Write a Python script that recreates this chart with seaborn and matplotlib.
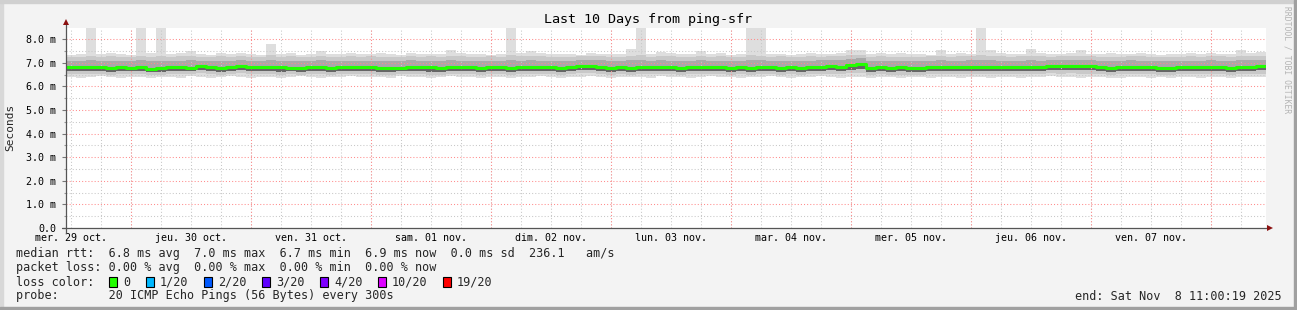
import numpy as np
import pandas as pd
import matplotlib
matplotlib.use("Agg")
import matplotlib.pyplot as plt
import seaborn as sns
from matplotlib.patches import Rectangle

# ---------------- data ----------------
title = "Last 10 Days from ping-sfr"
start_time = "2025-10-29 11:00"
step_hours = 2
day_labels = ["mer. 29 oct.", "jeu. 30 oct.", "ven. 31 oct.", "sam. 01 nov.", "dim. 02 nov.",
              "lun. 03 nov.", "mar. 04 nov.", "mer. 05 nov.", "jeu. 06 nov.", "ven. 07 nov."]
y_ticks = [0, 1, 2, 3, 4, 5, 6, 7, 8]
y_tick_labels = ["0.0", "1.0 m", "2.0 m", "3.0 m", "4.0 m", "5.0 m", "6.0 m", "7.0 m", "8.0 m"]

median_rtt = [
    6.83, 6.81, 6.81, 6.83, 6.80, 6.81, 6.80, 6.84, 6.76, 6.78,
    6.82, 6.81, 6.80, 6.86, 6.81, 6.79, 6.81, 6.86, 6.83, 6.81,
    6.81, 6.81, 6.80, 6.79, 6.82, 6.81, 6.80, 6.83, 6.81, 6.81,
    6.81, 6.79, 6.79, 6.79, 6.84, 6.81, 6.81, 6.79, 6.84, 6.81,
    6.83, 6.78, 6.83, 6.81, 6.77, 6.81, 6.82, 6.81, 6.83, 6.79,
    6.83, 6.86, 6.88, 6.84, 6.79, 6.81, 6.80, 6.84, 6.81, 6.83,
    6.81, 6.80, 6.83, 6.83, 6.83, 6.81, 6.80, 6.81, 6.80, 6.81,
    6.83, 6.80, 6.83, 6.79, 6.81, 6.84, 6.85, 6.84, 6.90, 6.97,
    6.80, 6.81, 6.79, 6.82, 6.79, 6.78, 6.83, 6.84, 6.82, 6.83,
    6.84, 6.81, 6.83, 6.82, 6.81, 6.83, 6.84, 6.83, 6.85, 6.85,
    6.85, 6.85, 6.86, 6.82, 6.80, 6.81, 6.84, 6.82, 6.83, 6.80,
    6.78, 6.81, 6.81, 6.83, 6.82, 6.81, 6.78, 6.82, 6.84, 6.87,
]
smoke_max = [
    7.34, 7.38, 8.50, 7.36, 7.42, 7.38, 7.34, 8.50, 7.40, 8.50,
    7.36, 7.40, 7.50, 7.36, 7.34, 7.42, 7.38, 7.40, 7.36, 7.34,
    7.80, 7.36, 7.40, 7.34, 7.36, 7.52, 7.38, 7.36, 7.42, 7.36,
    7.38, 7.40, 7.36, 7.34, 7.42, 7.36, 7.38, 7.36, 7.55, 7.40,
    7.36, 7.38, 7.34, 7.36, 8.50, 7.40, 7.50, 7.42, 7.36, 7.38,
    7.36, 7.34, 7.40, 7.36, 7.38, 7.36, 7.58, 8.50, 7.38, 7.48,
    7.40, 7.36, 7.38, 7.50, 7.36, 7.42, 7.34, 7.38, 8.50, 8.50,
    7.36, 7.38, 7.34, 7.36, 7.40, 7.36, 7.38, 7.42, 7.55, 7.55,
    7.38, 7.42, 7.36, 7.40, 7.36, 7.38, 7.34, 7.55, 7.36, 7.40,
    7.38, 8.50, 7.55, 7.40, 7.36, 7.38, 7.60, 7.40, 7.36, 7.38,
    7.42, 7.55, 7.38, 7.36, 7.40, 7.36, 7.38, 7.42, 7.36, 7.34,
    7.36, 7.38, 7.40, 7.36, 7.42, 7.38, 7.36, 7.55, 7.40, 7.48,
]
smoke_p90 = [
    7.26, 7.24, 7.28, 7.26, 7.30, 7.26, 7.24, 7.28, 7.26, 7.30,
    7.24, 7.28, 7.30, 7.26, 7.24, 7.28, 7.26, 7.30, 7.24, 7.26,
    7.32, 7.26, 7.28, 7.24, 7.26, 7.30, 7.26, 7.24, 7.28, 7.26,
    7.28, 7.26, 7.24, 7.26, 7.30, 7.26, 7.28, 7.24, 7.30, 7.28,
    7.26, 7.24, 7.28, 7.26, 7.32, 7.28, 7.30, 7.28, 7.26, 7.24,
    7.26, 7.28, 7.30, 7.28, 7.24, 7.26, 7.30, 7.32, 7.26, 7.28,
    7.28, 7.24, 7.26, 7.30, 7.26, 7.28, 7.24, 7.26, 7.32, 7.30,
    7.26, 7.28, 7.24, 7.26, 7.28, 7.26, 7.28, 7.30, 7.32, 7.34,
    7.26, 7.28, 7.24, 7.26, 7.24, 7.26, 7.28, 7.30, 7.26, 7.28,
    7.28, 7.32, 7.30, 7.28, 7.26, 7.28, 7.30, 7.28, 7.26, 7.28,
    7.30, 7.30, 7.28, 7.26, 7.26, 7.24, 7.28, 7.30, 7.26, 7.24,
    7.24, 7.26, 7.28, 7.26, 7.30, 7.28, 7.26, 7.30, 7.28, 7.30,
]
smoke_p75 = [
    7.10, 7.08, 7.12, 7.10, 7.08, 7.10, 7.06, 7.12, 7.08, 7.10,
    7.08, 7.10, 7.12, 7.10, 7.08, 7.10, 7.08, 7.12, 7.10, 7.08,
    7.12, 7.08, 7.10, 7.06, 7.10, 7.12, 7.08, 7.10, 7.10, 7.08,
    7.10, 7.08, 7.06, 7.08, 7.12, 7.10, 7.08, 7.06, 7.12, 7.10,
    7.10, 7.06, 7.10, 7.08, 7.12, 7.10, 7.12, 7.10, 7.10, 7.08,
    7.10, 7.12, 7.14, 7.12, 7.08, 7.10, 7.12, 7.14, 7.10, 7.12,
    7.10, 7.08, 7.10, 7.12, 7.10, 7.10, 7.08, 7.10, 7.12, 7.12,
    7.10, 7.08, 7.10, 7.08, 7.10, 7.12, 7.12, 7.12, 7.16, 7.20,
    7.08, 7.10, 7.08, 7.10, 7.08, 7.06, 7.10, 7.12, 7.10, 7.10,
    7.12, 7.12, 7.12, 7.10, 7.08, 7.10, 7.12, 7.10, 7.12, 7.12,
    7.12, 7.12, 7.14, 7.10, 7.08, 7.08, 7.12, 7.10, 7.10, 7.08,
    7.06, 7.08, 7.10, 7.10, 7.12, 7.10, 7.08, 7.12, 7.12, 7.14,
]
smoke_p25 = [
    6.66, 6.64, 6.64, 6.66, 6.62, 6.64, 6.64, 6.66, 6.62, 6.62,
    6.66, 6.64, 6.64, 6.68, 6.64, 6.62, 6.64, 6.68, 6.66, 6.64,
    6.64, 6.62, 6.64, 6.62, 6.66, 6.64, 6.62, 6.66, 6.64, 6.64,
    6.64, 6.62, 6.62, 6.64, 6.66, 6.64, 6.62, 6.62, 6.66, 6.64,
    6.66, 6.62, 6.66, 6.64, 6.60, 6.64, 6.66, 6.64, 6.66, 6.62,
    6.66, 6.68, 6.70, 6.66, 6.62, 6.64, 6.62, 6.66, 6.64, 6.66,
    6.64, 6.62, 6.66, 6.66, 6.66, 6.64, 6.62, 6.64, 6.62, 6.64,
    6.66, 6.62, 6.66, 6.62, 6.64, 6.66, 6.68, 6.66, 6.70, 6.74,
    6.62, 6.64, 6.62, 6.64, 6.62, 6.60, 6.66, 6.66, 6.64, 6.66,
    6.66, 6.64, 6.66, 6.64, 6.64, 6.66, 6.66, 6.66, 6.68, 6.68,
    6.68, 6.68, 6.68, 6.64, 6.62, 6.64, 6.66, 6.64, 6.66, 6.62,
    6.60, 6.64, 6.64, 6.66, 6.64, 6.64, 6.60, 6.64, 6.66, 6.68,
]
smoke_p10 = [
    6.54, 6.52, 6.52, 6.54, 6.50, 6.52, 6.52, 6.54, 6.50, 6.50,
    6.54, 6.52, 6.54, 6.56, 6.52, 6.50, 6.52, 6.56, 6.54, 6.52,
    6.52, 6.50, 6.52, 6.50, 6.54, 6.52, 6.50, 6.54, 6.52, 6.52,
    6.52, 6.50, 6.50, 6.52, 6.54, 6.52, 6.50, 6.50, 6.54, 6.52,
    6.54, 6.50, 6.54, 6.52, 6.48, 6.52, 6.54, 6.52, 6.54, 6.50,
    6.54, 6.56, 6.56, 6.54, 6.50, 6.52, 6.50, 6.54, 6.52, 6.54,
    6.52, 6.50, 6.54, 6.54, 6.54, 6.52, 6.50, 6.52, 6.50, 6.52,
    6.54, 6.50, 6.54, 6.50, 6.52, 6.54, 6.54, 6.54, 6.56, 6.58,
    6.50, 6.52, 6.50, 6.48, 6.50, 6.48, 6.54, 6.54, 6.52, 6.52,
    6.54, 6.52, 6.54, 6.52, 6.52, 6.54, 6.54, 6.54, 6.56, 6.54,
    6.56, 6.54, 6.54, 6.52, 6.50, 6.52, 6.54, 6.52, 6.52, 6.50,
    6.48, 6.52, 6.52, 6.54, 6.52, 6.52, 6.48, 6.52, 6.54, 6.54,
]
smoke_min = [
    6.42, 6.38, 6.40, 6.44, 6.40, 6.38, 6.42, 6.40, 6.36, 6.40,
    6.42, 6.38, 6.44, 6.40, 6.38, 6.42, 6.44, 6.40, 6.38, 6.42,
    6.40, 6.36, 6.42, 6.44, 6.40, 6.38, 6.42, 6.40, 6.44, 6.40,
    6.42, 6.40, 6.38, 6.44, 6.40, 6.42, 6.38, 6.40, 6.44, 6.42,
    6.40, 6.38, 6.42, 6.40, 6.36, 6.42, 6.40, 6.44, 6.42, 6.38,
    6.40, 6.42, 6.44, 6.40, 6.38, 6.42, 6.40, 6.42, 6.38, 6.44,
    6.40, 6.42, 6.38, 6.40, 6.44, 6.42, 6.40, 6.38, 6.42, 6.40,
    6.44, 6.40, 6.38, 6.42, 6.40, 6.44, 6.40, 6.38, 6.42, 6.40,
    6.38, 6.42, 6.40, 6.36, 6.40, 6.42, 6.38, 6.40, 6.42, 6.38,
    6.42, 6.40, 6.38, 6.42, 6.40, 6.38, 6.42, 6.40, 6.44, 6.40,
    6.42, 6.38, 6.40, 6.42, 6.38, 6.36, 6.40, 6.42, 6.38, 6.40,
    6.36, 6.40, 6.42, 6.38, 6.40, 6.42, 6.38, 6.40, 6.42, 6.40,
]

legend_rtt = "median rtt:  6.8 ms avg  7.0 ms max  6.7 ms min  6.9 ms now  0.0 ms sd  236.1   am/s"
legend_loss = "packet loss: 0.00 % avg  0.00 % max  0.00 % min  0.00 % now"
legend_color_title = "loss color:"
loss_labels = ["0", "1/20", "2/20", "3/20", "4/20", "10/20", "19/20"]
loss_colors = ["#22ff00", "#00b8ff", "#0059ff", "#5e00ff", "#7e00ff", "#dd00ff", "#ff0000"]
legend_probe = "probe:       20 ICMP Echo Pings (56 Bytes) every 300s"
legend_end = "end: Sat Nov  8 11:00:19 2025"
side_text = "RRDTOOL / TOBI OETIKER"

# ---------------- figure ----------------
sns.set_theme(style="white")
plt.rcParams["font.family"] = ["DejaVu Sans Mono", "DejaVu Sans"]

W, H = 1297, 310
fig = plt.figure(figsize=(W / 100, H / 100), dpi=100, facecolor="#f3f3f3")

# 3D-ish border
fig.patches.append(Rectangle((0, 0), 3 / W, 1, transform=fig.transFigure, color="#d8d8d8", zorder=0))
fig.patches.append(Rectangle((0, 1 - 3 / H), 1, 3 / H, transform=fig.transFigure, color="#d0d0d0", zorder=0))
fig.patches.append(Rectangle((1 - 3 / W, 0), 3 / W, 1, transform=fig.transFigure, color="#a0a0a0", zorder=0))
fig.patches.append(Rectangle((0, 0), 1, 3 / H, transform=fig.transFigure, color="#a0a0a0", zorder=0))

px_l, px_r, px_t, px_b = 66, 1266, 28, 228
ax = fig.add_axes([px_l / W, 1 - px_b / H, (px_r - px_l) / W, (px_b - px_t) / H])
ax.set_facecolor("white")

n = len(median_rtt)
hours = np.arange(n + 1) * step_hours
def ext(a):
    return np.append(np.asarray(a, float), a[-1])

df = pd.DataFrame({"hours": hours, "median": ext(median_rtt)})

ax.fill_between(hours, ext(smoke_min), ext(smoke_max), step="post", color="#dedede", lw=0, zorder=1)
ax.fill_between(hours, ext(smoke_p10), ext(smoke_p90), step="post", color="#c9c9c9", lw=0, zorder=1.1)
ax.fill_between(hours, ext(smoke_p25), ext(smoke_p75), step="post", color="#a9a9a9", lw=0, zorder=1.2)
ax.fill_between(hours, ext(smoke_p25), ext(median_rtt), step="post", color="#666666", lw=0, zorder=1.3)

total_h = n * step_hours
ax.set_xlim(0, total_h)
ax.set_ylim(0, 8.48)

# grid (drawn on top of smoke, like rrdtool)
t0 = pd.Timestamp(start_time)
first_midnight = (t0.normalize() + pd.Timedelta(days=1) - t0) / pd.Timedelta(hours=1)
first_noon = ((t0.normalize() + pd.Timedelta(hours=12)) - t0) / pd.Timedelta(hours=1)
if first_noon < 0:
    first_noon += 24
minor_x = np.arange(first_noon % 6, total_h, 6)
major_x = np.arange(first_midnight, total_h, 24)
dot = (0, (1, 2))
for xv in minor_x:
    ax.axvline(xv, color="#c8c8c8", lw=0.75, ls=dot, zorder=2)
for yv in np.arange(0.5, 8.5, 1.0):
    ax.axhline(yv, color="#c8c8c8", lw=0.75, ls=dot, zorder=2)
for xv in major_x:
    ax.axvline(xv, color="#ff8c8c", lw=0.75, ls=dot, zorder=2.1)
for yv in y_ticks[1:]:
    ax.axhline(yv, color="#ff8c8c", lw=0.75, ls=dot, zorder=2.1)

sns.lineplot(data=df, x="hours", y="median", drawstyle="steps-post", color="#22ff00",
             lw=2.2, ax=ax, zorder=3)

# axes look
for s in ax.spines.values():
    s.set_visible(False)
ax.set_xlabel("")
ax.set_ylabel("")
noon_x = first_noon + 24 * np.arange(len(day_labels))
ax.set_xticks(noon_x)
ax.set_xticklabels(day_labels, fontsize=7.2, color="black")
ax.tick_params(axis="x", length=0, pad=3.5)
ax.set_yticks(y_ticks)
ax.set_yticklabels(y_tick_labels, fontsize=7.2, color="black")
ax.set_yticks(np.arange(0.5, 8.5, 1.0), minor=True)
ax.tick_params(axis="y", which="major", length=3, width=0.8, color="#777777", pad=4, left=True)
ax.tick_params(axis="y", which="minor", length=1.5, width=0.8, color="#999999", left=True)

# axis lines with arrows
xa0 = (62 - px_l) / (px_r - px_l)
xa1 = (1268 - px_l) / (px_r - px_l)
ya0 = -(233 - px_b) / (px_b - px_t)
ya1 = (px_b - 24) / (px_b - px_t)
ax.plot([xa0, xa1], [0, 0], transform=ax.transAxes, color="#555555", lw=0.9, clip_on=False, zorder=5)
ax.plot([0, 0], [ya0, ya1], transform=ax.transAxes, color="#555555", lw=0.9, clip_on=False, zorder=5)
ax.plot([(1270 - px_l) / (px_r - px_l)], [0], transform=ax.transAxes, marker=">", ms=4,
        color="#8b1010", clip_on=False, zorder=6, mew=0)
ax.plot([0], [(px_b - 22) / (px_b - px_t)], transform=ax.transAxes, marker="^", ms=4,
        color="#8b1010", clip_on=False, zorder=6, mew=0)

# texts
fig.text(0.5, 1 - 19 / H, title, ha="center", va="center", fontsize=9.6, color="black")
fig.text(10 / W, 1 - 127 / H, "Seconds", rotation=90, ha="center", va="center", fontsize=8.0)
fig.text(1287 / W, 1 - 60 / H, side_text, rotation=270, ha="center", va="center",
         fontsize=5.8, color="#b4b4b4")

fs = 8.5
fig.text(16 / W, 1 - 254 / H, legend_rtt, ha="left", va="center", fontsize=fs)
fig.text(16 / W, 1 - 268 / H, legend_loss, ha="left", va="center", fontsize=fs)
fig.text(16 / W, 1 - 282 / H, legend_color_title, ha="left", va="center", fontsize=fs)
box_x = [109, 146, 204, 262, 320, 378, 443]
for bx, lab, col in zip(box_x, loss_labels, loss_colors):
    fig.patches.append(Rectangle((bx / W, 1 - 287 / H), 7.5 / W, 10 / H, transform=fig.transFigure,
                                 facecolor=col, edgecolor="black", lw=0.8, zorder=5))
    fig.text((bx + 14) / W, 1 - 282 / H, lab, ha="left", va="center", fontsize=fs)
fig.text(16 / W, 1 - 296 / H, legend_probe, ha="left", va="center", fontsize=fs)
fig.text(1282 / W, 1 - 296 / H, legend_end, ha="right", va="center", fontsize=fs)

fig.savefig("out.png", dpi=100, facecolor=fig.get_facecolor())
